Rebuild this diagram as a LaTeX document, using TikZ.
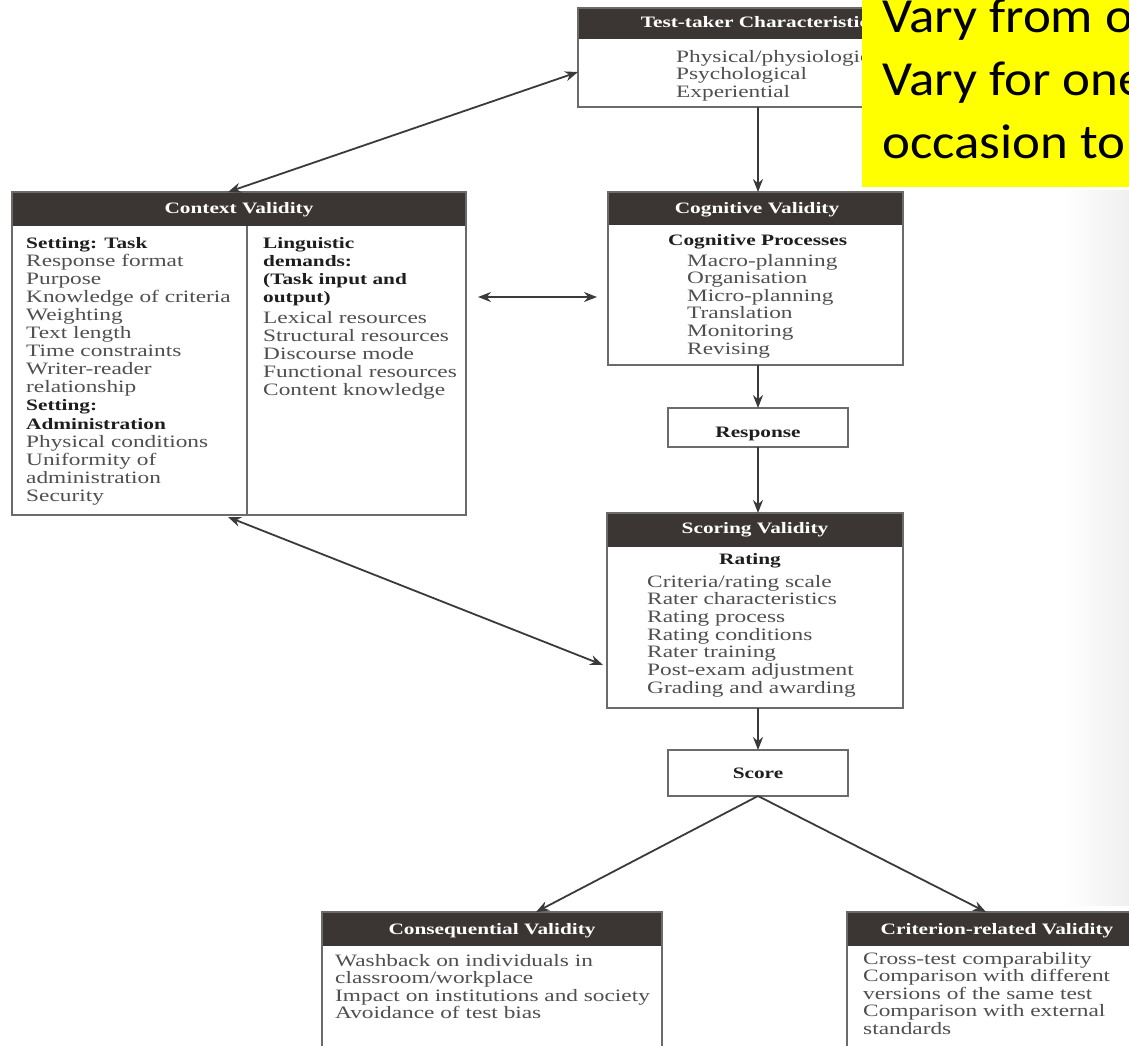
\documentclass[tikz,border=0pt]{standalone}
\usepackage{fontspec}
\setmainfont{Liberation Serif}[FakeStretch=1.34]
\newfontfamily\notefont{Carlito}[FakeStretch=1.08]
\usetikzlibrary{arrows.meta,calc}

\definecolor{hdrfill}{HTML}{3B3634}
\definecolor{edge}{HTML}{6B6B6B}
\definecolor{wire}{HTML}{3A3A3A}
\definecolor{itemtext}{HTML}{4F4F4F}
\definecolor{headtext}{HTML}{1E1E1E}
\definecolor{notebg}{HTML}{FFFF00}

\newcommand{\itemfont}{\fontsize{17.4}{17.7}\selectfont}
\newcommand{\headfont}{\fontsize{15.9}{17.7}\selectfont\bfseries}
\newcommand{\hd}[1]{{\headfont\color{headtext}#1}}
\newcommand{\itemlines}[1]{\begin{tabular}[t]{@{}l@{}}#1\end{tabular}}

\tikzset{
  panel/.style={rectangle, draw=edge, line width=1.4pt, fill=white,
    inner sep=0pt, outer sep=0pt, anchor=north west},
  headed/.style={path picture={\fill[hdrfill]
    (path picture bounding box.north west) rectangle
    ([yshift=-#1]path picture bounding box.north east);}},
  title/.style={text=white, font=\headfont, anchor=base, inner sep=0pt},
  body/.style={text=itemtext, font=\itemfont, anchor=base west, inner sep=0pt},
  link/.style={draw=wire, line width=1.8pt, -{Stealth[length=13pt,width=10pt]}},
  twoway/.style={draw=wire, line width=1.8pt,
    {Stealth[length=13pt,width=10pt]}-{Stealth[length=13pt,width=10pt]}},
}

\begin{document}
\begin{tikzpicture}[x=1pt,y=-1pt]
\useasboundingbox (0,0) rectangle (1129,1045);
\clip (0,0) rectangle (1129,1045);

% faint page bleed along the right margin
\shade[left color=white, right color=black!6] (1062,190) rectangle (1129,905);

% boxes
\node[panel, headed=31pt, minimum width=362pt, minimum height=99pt] (tt) at (578,8) {};
\node[panel, headed=34pt, minimum width=454pt, minimum height=323pt] (ctx) at (12,192) {};
\node[panel, headed=33pt, minimum width=295pt, minimum height=173pt] (cog) at (608,192) {};
\node[panel, minimum width=180pt, minimum height=39pt] (resp) at (668,408) {};
\node[panel, headed=34pt, minimum width=296pt, minimum height=195pt] (scor) at (607,513) {};
\node[panel, minimum width=180pt, minimum height=46pt] (score) at (668,750) {};
\node[panel, headed=34pt, minimum width=340pt, minimum height=170pt] (cons) at (322,912) {};
\node[panel, headed=34pt, minimum width=300pt, minimum height=170pt] (crit) at (847,912) {};

% column divider of the context box
\draw[draw=edge, line width=1.4pt] ($(ctx.north west)+(235,34)$) -- ($(ctx.south west)+(235,0)$);

% box titles
\node[title] (ttT) at ($(tt.north)+(0,19)$) {Test-taker Characteristics};
\node[title] (ctxT) at ($(ctx.north)+(0,21)$) {Context Validity};
\node[title] (cogT) at ($(cog.north)+(1.5,21)$) {Cognitive Validity};
\node[title] (scorT) at ($(scor.north)+(0,20)$) {Scoring Validity};
\node[title] (consT) at ($(cons.north)+(0,22)$) {Consequential Validity};
\node[title] (critT) at ($(crit.north)+(0,22)$) {Criterion-related Validity};
\node[title, text=headtext] (respT) at ($(resp.north)+(0,29)$) {Response};
\node[title, text=headtext] (scoreT) at ($(score.north)+(0,28)$) {Score};

% box contents
\node[body] (ttL) at ($(tt.north west)+(98,54)$)
  {\itemlines{Physical/physiological\\Psychological\\Experiential}};

\node[body, font=\fontsize{17.4}{18.1}\selectfont] (ctxL) at ($(ctx.north west)+(14,56)$)
  {\itemlines{\hd{Setting: Task}\\Response format\\Purpose\\Knowledge of criteria\\
   Weighting\\Text length\\Time constraints\\Writer-reader\\relationship\\
   \hd{Setting:}\\\hd{Administration}\\Physical conditions\\Uniformity of\\
   administration\\Security}};

\node[body, font=\fontsize{17.4}{18.1}\selectfont] (ctxR) at ($(ctx.north west)+(251,56)$)
  {\itemlines{\hd{Linguistic}\\\hd{demands:}\\\hd{(Task input and}\\\hd{output)}\\[3pt]
   Lexical resources\\Structural resources\\Discourse mode\\Functional resources\\
   Content knowledge}};

\node[body, font=\fontsize{17.4}{17.6}\selectfont] (cogL) at ($(cog.north west)+(60,53)$)
  {\itemlines{\hd{Cognitive Processes}\\[3.5pt]
   \hspace*{19pt}Macro-planning\\\hspace*{19pt}Organisation\\\hspace*{19pt}Micro-planning\\
   \hspace*{19pt}Translation\\\hspace*{19pt}Monitoring\\\hspace*{19pt}Revising}};

\node[title, text=headtext] (scorH) at ($(scor.north)+(-5,51)$) {Rating};
\node[body] (scorL) at ($(scor.north west)+(40,74)$)
  {\itemlines{Criteria/rating scale\\Rater characteristics\\Rating process\\
   Rating conditions\\Rater training\\Post-exam adjustment\\Grading and awarding}};

\node[body, font=\fontsize{17.4}{17.5}\selectfont] (consL) at ($(cons.north west)+(13,54)$)
  {\itemlines{Washback on individuals in\\classroom/workplace\\
   Impact on institutions and society\\Avoidance of test bias}};

\node[body, font=\fontsize{17.4}{17.5}\selectfont] (critL) at ($(crit.north west)+(16,52)$)
  {\itemlines{Cross-test comparability\\Comparison with different\\
   versions of the same test\\Comparison with external\\standards}};

% connectors
\draw[twoway] ($(ctx.north west)+(216,0)$) -- ($(tt.north west)+(0,64)$);
\draw[link] (resp.north |- tt.south) -- (resp.north |- cog.north);
\draw[twoway] ($(ctx.north east)+(12,105)$) -- ($(cog.north west)+(-11,105)$);
\draw[link] (resp.north |- cog.south) -- (resp.north);
\draw[link] (resp.south) -- (resp.south |- scor.north);
\draw[link] (score.north |- scor.south) -- (score.north);
\draw[twoway] ($(ctx.south west)+(216,2)$) -- ($(scor.north west)+(-4,152)$);
\draw[link] (score.south) -- ($(cons.north west)+(214,0)$);
\draw[link] (score.south) -- ($(crit.north west)+(139,0)$);

% yellow note laid over the top right corner
\node[fill=notebg, anchor=north west, inner sep=0pt, outer sep=0pt,
      minimum width=267pt, minimum height=189pt] (note) at (862,-2) {};
\node[anchor=base west, inner sep=0pt, font=\notefont\fontsize{49}{63}\selectfont]
  (noteT) at ($(note.north west)+(20,34)$)
  {\itemlines{Vary from o\\Vary for one\\occasion to}};
\end{tikzpicture}
\end{document}
